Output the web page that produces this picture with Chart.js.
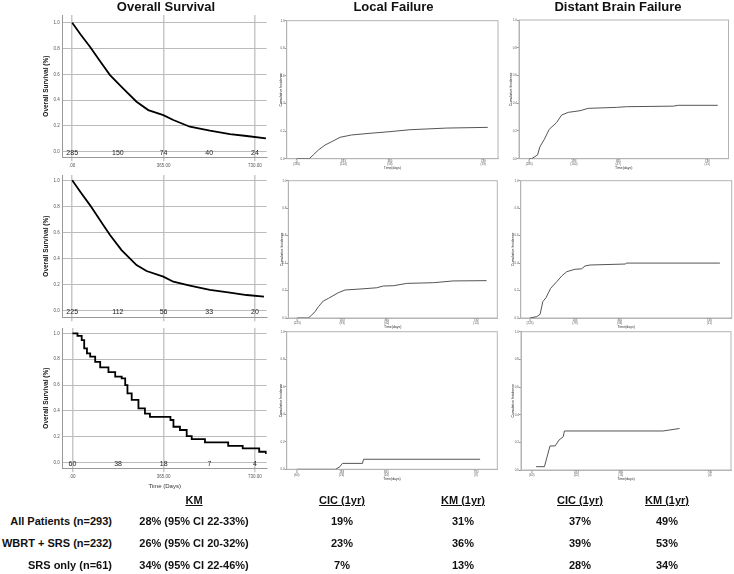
<!DOCTYPE html>
<html>
<head>
<meta charset="utf-8">
<script src="https://cdn.jsdelivr.net/npm/chart.js@4.4.1/dist/chart.umd.min.js"></script>
<style>
  body { margin: 0; width: 734px; height: 574px; position: relative; overflow: hidden; background: #fff;
         font-family: "Liberation Sans", Arial, sans-serif; color: #111; }
  canvas { position: absolute; }
  .title { position: absolute; top: 0; font-size: 13px; line-height: 13px; font-weight: bold; white-space: nowrap; transform: translateX(-50%); }
  .cell { position: absolute; font-size: 11px; line-height: 14px; font-weight: bold; white-space: nowrap; }
  .c { transform: translateX(-50%); }
  .u { text-decoration: underline; }
</style>
</head>
<body>
<script>
// ---- data ----
const yTicks = [0, 0.2, 0.4, 0.6, 0.8, 1.0];
const osTicks = [0, 365, 730];
const osTickLabels = ['.00', '365.00', '730.00'];
const riskTimes = [0, 182.5, 365, 547.5, 730];
const cicTicks = [0, 183, 365, 730];

// overall survival (KM)
const osAllDays = [0, 35, 71, 110, 151, 204, 257, 304, 364, 404, 470, 550, 630, 697, 774];
const osAllSurv = [1.0, 0.905, 0.814, 0.705, 0.594, 0.49, 0.388, 0.323, 0.284, 0.246, 0.194, 0.163, 0.137, 0.122, 0.104];
const osWbrtDays = [0, 35, 71, 124, 151, 197, 257, 297, 364, 404, 470, 550, 630, 697, 766];
const osWbrtSurv = [1.0, 0.905, 0.81, 0.657, 0.58, 0.465, 0.35, 0.304, 0.261, 0.222, 0.192, 0.159, 0.138, 0.12, 0.107];
const osSrsDays = [0, 20, 37, 47, 58, 71, 91, 111, 144, 171, 197, 211, 220, 237, 264, 290, 310, 392, 404, 430, 457, 477, 530, 623, 681, 747, 774];
const osSrsSurv = [1.0, 0.98, 0.948, 0.884, 0.845, 0.82, 0.78, 0.737, 0.70, 0.665, 0.652, 0.60, 0.536, 0.485, 0.42, 0.38, 0.355, 0.33, 0.278, 0.253, 0.206, 0.183, 0.157, 0.131, 0.111, 0.085, 0.067];
const riskAll = [285, 150, 74, 40, 24];
const riskWbrt = [225, 112, 56, 33, 20];
const riskSrs = [60, 38, 18, 7, 4];

// local failure (cumulative incidence)
const lfAllDays = [0, 49, 65, 85, 111, 137, 170, 215, 287, 365, 443, 587, 748];
const lfAllInc = [0, 0, 0.027, 0.063, 0.099, 0.123, 0.155, 0.172, 0.184, 0.196, 0.21, 0.222, 0.227];
const lfWbrtDays = [0, 45, 59, 72, 86, 106, 127, 167, 195, 256, 324, 351, 392, 447, 556, 637, 773];
const lfWbrtInc = [0, 0, 0.022, 0.046, 0.082, 0.124, 0.143, 0.184, 0.204, 0.211, 0.22, 0.233, 0.235, 0.252, 0.257, 0.27, 0.272];
const lfSrsDays = [0, 158, 176, 186, 268, 272, 747];
const lfSrsInc = [0, 0, 0.019, 0.043, 0.043, 0.073, 0.073];
const lfAllRisk = ['(285)', '(114)', '(58)', '(19)'];
const lfWbrtRisk = ['(225)', '(93)', '(45)', '(14)'];
const lfSrsRisk = ['(60)', '(26)', '(14)', '(3)'];

// distant brain failure (cumulative incidence)
const dbfAllDays = [0, 10, 34, 44, 62, 82, 112, 133, 160, 208, 242, 358, 399, 591, 611, 773];
const dbfAllInc = [0, 0, 0.027, 0.087, 0.14, 0.212, 0.26, 0.315, 0.334, 0.346, 0.363, 0.37, 0.375, 0.379, 0.385, 0.385];
const dbfWbrtDays = [0, 27, 41, 52, 65, 84, 109, 129, 149, 183, 210, 224, 244, 387, 394, 773];
const dbfWbrtInc = [0, 0.01, 0.027, 0.119, 0.148, 0.216, 0.265, 0.306, 0.337, 0.355, 0.358, 0.379, 0.386, 0.393, 0.40, 0.40];
const dbfSrsDays = [18, 52, 75, 96, 112, 129, 134, 538, 606];
const dbfSrsInc = [0.024, 0.024, 0.174, 0.174, 0.217, 0.24, 0.282, 0.282, 0.30];
const dbfAllRisk = ['(285)', '(100)', '(47)', '(15)'];
const dbfWbrtRisk = ['(225)', '(78)', '(36)', '(11)'];
const dbfSrsRisk = ['(60)', '(22)', '(11)', '(4)'];

// summary table
const groups = ['All Patients (n=293)', 'WBRT + SRS (n=232)', 'SRS only (n=61)'];
const tableHeads = ['KM', 'CIC (1yr)', 'KM (1yr)', 'CIC (1yr)', 'KM (1yr)'];
const osKM = ['28% (95% CI 22-33%)', '26% (95% CI 20-32%)', '34% (95% CI 22-46%)'];
const lfCIC = ['19%', '23%', '7%'];
const lfKM = ['31%', '36%', '13%'];
const dbfCIC = ['37%', '39%', '28%'];
const dbfKM = ['49%', '53%', '34%'];

// ---- drawing ----
Chart.defaults.font.family = '"Liberation Sans", Arial, sans-serif';
Chart.defaults.color = '#555';

const riskPlugin = {
  id: 'risk',
  afterDatasetsDraw(chart, args, opts) {
    if (!opts.counts) return;
    const { ctx, scales: { x, y } } = chart;
    ctx.save();
    ctx.font = '7px "Liberation Sans", Arial, sans-serif';
    ctx.fillStyle = '#222';
    ctx.textAlign = 'center';
    ctx.textBaseline = 'middle';
    opts.counts.forEach((n, i) => ctx.fillText(n, x.getPixelForValue(riskTimes[i]), y.getPixelForValue(0) + 1.5));
    ctx.restore();
  }
};

const framePlugin = {
  id: 'frame',
  beforeDatasetsDraw(chart) {
    const a = chart.chartArea, c = chart.ctx;
    c.save();
    c.strokeStyle = '#b4b4b4';
    c.lineWidth = 1;
    c.strokeRect(a.left, a.top, a.right - a.left, a.bottom - a.top);
    c.restore();
  }
};

function pts(days, vals) {
  return days.map((d, i) => ({ x: d, y: vals[i] }));
}

function makeChart(s) {
  const [L, T, W, H] = s.box;
  const [al, at, ar, ab] = s.area;
  const cv = document.createElement('canvas');
  cv.width = Math.round(W); cv.height = Math.round(H);
  cv.style.left = L + 'px'; cv.style.top = T + 'px';
  document.body.appendChild(cv);
  const os = s.kind === 'os';
  const tFont = os ? 6.5 : 3.5;
  const xTFont = os ? 6 : 3.5;

  new Chart(cv, {
    type: 'line',
    data: { datasets: [{
      data: s.data,
      borderColor: os ? '#000' : '#555',
      borderWidth: os ? 1.8 : 1,
      pointRadius: 0,
      stepped: s.stepped || false,
      tension: 0
    }] },
    options: {
      responsive: false,
      animation: false,
      layout: { padding: { left: 0, top: at - T, right: L + W - ar, bottom: 0 } },
      plugins: { legend: { display: false }, tooltip: { enabled: false }, risk: { counts: s.risk } },
      scales: {
        x: {
          type: 'linear', min: s.xmin, max: s.xmax,
          afterBuildTicks: sc => { sc.ticks = (os ? osTicks : cicTicks).map(v => ({ value: v })); },
          afterFit: sc => { sc.height = T + H - ab; sc.paddingLeft = 0; sc.paddingRight = 0; },
          ticks: {
            display: s.xLabels !== false,
            autoSkip: false, maxRotation: 0,
            font: { size: os ? 4.5 : 3, lineHeight: os ? 1.2 : 1 },
            padding: os ? 2 : 0,
            callback: (v, i) => os ? osTickLabels[osTicks.indexOf(v)] : [String(v), s.atRisk[cicTicks.indexOf(v)]]
          },
          grid: os ? { color: '#c8c8c8', lineWidth: 1.5, tickLength: 4 }
                   : { drawOnChartArea: false, tickLength: 1, color: '#999' },
          border: { color: os ? '#999' : '#b4b4b4' },
          title: {
            display: s.xTitle !== false,
            text: os ? 'Time (Days)' : 'Time(days)',
            font: { size: xTFont }, color: '#333',
            padding: { top: 0, bottom: 0 }
          }
        },
        y: {
          min: s.ymin, max: s.ymax,
          afterBuildTicks: sc => { sc.ticks = yTicks.map(v => ({ value: v })); },
          afterFit: sc => { sc.width = al - L; sc.paddingTop = 0; sc.paddingBottom = 0; },
          ticks: { font: { size: os ? 4.5 : 3 }, padding: os ? 3 : 0, callback: v => v.toFixed(1) },
          grid: os ? { color: '#bbb', drawTicks: false }
                   : { drawOnChartArea: false, tickLength: 2, color: '#999' },
          border: { color: os ? '#999' : '#b4b4b4' },
          title: {
            display: true,
            text: os ? 'Overall Survival (%)' : 'Cumulative Incidence',
            font: { size: tFont, weight: os ? 'bold' : 'normal' }, color: '#111',
            padding: { top: s.yTitleX - L - tFont * 0.6, bottom: 0 }
          }
        }
      }
    },
    plugins: os ? [riskPlugin] : [framePlugin]
  });
}

const charts = [
  { kind: 'os', box: [30, 10, 245, 162], area: [62.7, 15, 266.7, 157.3], xmin: -38, xmax: 777, ymin: -0.043, ymax: 1.06,
    yTitleX: 46, xTitle: false, data: pts(osAllDays, osAllSurv), risk: riskAll },
  { kind: 'os', box: [30, 170, 245, 152], area: [62.7, 175, 266.7, 317.3], xmin: -38, xmax: 777, ymin: -0.051, ymax: 1.041,
    yTitleX: 46, xTitle: false, xLabels: false, data: pts(osWbrtDays, osWbrtSurv), risk: riskWbrt },
  { kind: 'os', box: [30, 324, 245, 166], area: [62.7, 328, 266.7, 468.3], xmin: -39, xmax: 777, ymin: -0.043, ymax: 1.041,
    yTitleX: 46, data: pts(osSrsDays, osSrsSurv), risk: riskSrs, stepped: true },

  { kind: 'cic', box: [262, 10, 240, 160], area: [286.7, 20.7, 498, 158.7], xmin: -39, xmax: 788, ymin: 0, ymax: 1,
    yTitleX: 281, data: pts(lfAllDays, lfAllInc), atRisk: lfAllRisk },
  { kind: 'cic', box: [262, 172, 240, 157], area: [288.3, 180.7, 497.3, 318], xmin: -37, xmax: 817, ymin: 0, ymax: 1,
    yTitleX: 282, data: pts(lfWbrtDays, lfWbrtInc), atRisk: lfWbrtRisk },
  { kind: 'cic', box: [262, 326, 240, 155], area: [286.7, 331.7, 497.3, 469.3], xmin: -41, xmax: 817, ymin: 0, ymax: 1,
    yTitleX: 281, data: pts(lfSrsDays, lfSrsInc), atRisk: lfSrsRisk },

  { kind: 'cic', box: [500, 10, 234, 160], area: [519, 20, 728.5, 158.7], xmin: -42, xmax: 817, ymin: 0, ymax: 1,
    yTitleX: 511, data: pts(dbfAllDays, dbfAllInc), atRisk: dbfAllRisk },
  { kind: 'cic', box: [500, 172, 234, 157], area: [520.7, 180.7, 731.7, 318], xmin: -38, xmax: 821, ymin: 0, ymax: 1,
    yTitleX: 513, data: pts(dbfWbrtDays, dbfWbrtInc), atRisk: dbfWbrtRisk },
  { kind: 'cic', box: [500, 326, 234, 155], area: [521, 331.7, 731, 470], xmin: -44, xmax: 817, ymin: 0, ymax: 1,
    yTitleX: 513, data: pts(dbfSrsDays, dbfSrsInc), atRisk: dbfSrsRisk }
];
charts.forEach(makeChart);

// column titles
[['Overall Survival', 166], ['Local Failure', 393.5], ['Distant Brain Failure', 618]].forEach(([txt, x]) => {
  const d = document.createElement('div');
  d.className = 'title';
  d.style.left = x + 'px';
  d.textContent = txt;
  document.body.appendChild(d);
});

// table under the charts
const colX = [194, 342, 463, 580, 667];
const rowTop = [514, 536, 558];
function cell(txt, cls, style) {
  const d = document.createElement('div');
  d.className = 'cell ' + cls;
  Object.assign(d.style, style);
  d.textContent = txt;
  document.body.appendChild(d);
}
tableHeads.forEach((h, i) => cell(h, 'c u', { left: colX[i] + 'px', top: '493px' }));
groups.forEach((g, r) => {
  cell(g, '', { right: (734 - 112) + 'px', top: rowTop[r] + 'px', textAlign: 'right' });
  [osKM, lfCIC, lfKM, dbfCIC, dbfKM].forEach((col, i) =>
    cell(col[r], 'c', { left: colX[i] + 'px', top: rowTop[r] + 'px' }));
});
</script>
</body>
</html>
